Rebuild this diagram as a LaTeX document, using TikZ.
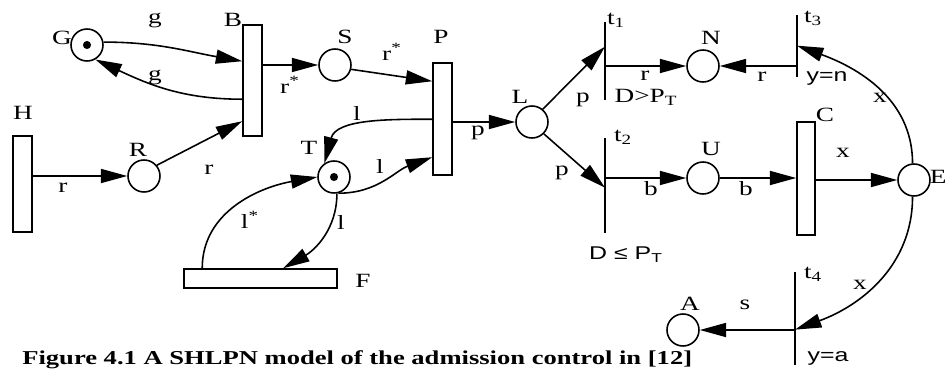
\documentclass[tikz,border=0pt]{standalone}
\usepackage{fontspec}
\setmainfont[FakeStretch=1.35]{Liberation Serif}
\newfontfamily\guardfont[FakeStretch=1.35]{Liberation Sans}
\usepackage{tikz}
\usetikzlibrary{arrows.meta,positioning,calc}
\tikzset{
    place/.style={
        circle,
        draw,
        line width=0.9pt,
        minimum size=0.64cm,
        inner sep=0pt
    },
    token/.style={
        path picture={\fill (path picture bounding box.center) circle (2.3pt);}
    },
    trans/.style={
        rectangle,
        draw,
        line width=0.9pt,
        inner sep=0pt
    },
    bar/.style={
        rectangle,
        fill=black,
        inner sep=0pt,
        minimum width=0.9pt
    },
    arc/.style={
        line width=0.9pt,
        -{Triangle[length=15pt,width=8pt]}
    },
    lbl/.style={
        inner sep=0pt,
        font=\fontsize{11.5}{13}\selectfont
    },
    guard/.style={
        inner sep=0pt,
        font=\guardfont\fontsize{10.5}{12}\selectfont
    }
}

\begin{document}
\begin{tikzpicture}[x=0.02cm, y=-0.02cm]
    \useasboundingbox (0,0) rectangle (948,369);
    % places
    \node (G) [place, token] at (87,45) {};
    \node (S) [place] at (335,65) {};
    \node (R) [place] at (144,176) {};
    \node (T) [place, token] at (334,177) {};
    \node (L) [place] at (532,122) {};
    \node (N) [place] at (703,66) {};
    \node (U) [place] at (703,178) {};
    \node (E) [place] at (914,180) {};
    \node (A) [place] at (683,330) {};
    % transitions
    \node (B) [trans, minimum width=0.38cm, minimum height=2.22cm] at (252.5,80.5) {};
    \node (H) [trans, minimum width=0.38cm, minimum height=1.92cm] at (22.5,184) {};
    \node (P) [trans, minimum width=0.38cm, minimum height=2.24cm] at (442.5,119) {};
    \node (F) [trans, minimum width=3.06cm, minimum height=0.38cm] at (260.5,278.5) {};
    \node (C) [trans, minimum width=0.36cm, minimum height=2.26cm] at (806,178.5) {};
    \node (t1) [bar, minimum height=1.56cm] at (605,61) {};
    \node (t2) [bar, minimum height=1.90cm] at (605,185.5) {};
    \node (t3) [bar, minimum height=1.24cm] at (797,46) {};
    \node (t4) [bar, minimum height=1.86cm] at (795,318.5) {};

    % arcs
    \draw [arc] (G.10) to[out=0,in=170] ($(B.north west)+(0,37)$);
    \draw [arc] ($(B.north west)+(0,75)$) to[out=180,in=-25] (G.-60);
    \draw [arc] (B.east |- S) -- (S);
    \draw [arc] (S.-15) -- ($(P.north west)+(0,19)$);
    \draw [arc] (H.east |- R) -- (R);
    \draw [arc] (R.40) -- ($(B.north west)+(0,97)$);
    \draw [arc] (P.east |- L) -- (L);
    \draw [arc] ($(P.north west)+(0,57)$) to[out=180,in=75] (T.125);
    \draw [arc] (T.-75) to[out=0,in=200] ($(P.north west)+(0,95)$);
    \draw [arc] ($(F.north west)+(19,0)$) to[out=90,in=190] (T.west);
    \draw [arc] (T.-80) to[out=-90,in=30] ($(F.north west)+(100,0)$);
    \draw [arc] (L.50) -- ($(t1.north)+(0,25)$);
    \draw [arc] (L.-45) -- ($(t2.north)+(0,50)$);
    \draw [arc] (t1 |- N) -- (N);
    \draw [arc] (t3 |- N) -- (N);
    \draw [arc] (t2 |- U) -- (U);
    \draw [arc] (U) -- (C.west |- U);
    \draw [arc] (C.east |- E) -- (E);
    \draw [arc] (E.95) to[out=90,in=-20] ($(t3.north)+(0,31)$);
    \draw [arc] (E.-95) to[out=-90,in=20] ($(t4.north)+(0,58)$);
    \draw [arc] (t4 |- A) -- (A);

    % names and inscriptions
    \node (lG) [lbl] at (62,38) {G};
    \node (lB) [lbl] at (233,20) {B};
    \node (lS) [lbl] at (345,37) {S};
    \node (lP) [lbl] at (441,37) {P};
    \node (lH) [lbl] at (23,113) {H};
    \node (lR) [lbl] at (138,150) {R};
    \node (lT) [lbl] at (309,148) {T};
    \node (lF) [lbl] at (363,281) {F};
    \node (lL) [lbl] at (520,97) {L};
    \node (lN) [lbl] at (711,38) {N};
    \node (lU) [lbl] at (711,149) {U};
    \node (lC) [lbl] at (825,115) {C};
    \node (lE) [lbl, anchor=east] at (947,177) {E};
    \node (lA) [lbl] at (690,304) {A};
    \node (lt1) [lbl] at (616,20) {t\textsubscript{1}};
    \node (lt2) [lbl] at (623,137) {t\textsubscript{2}};
    \node (lt3) [lbl] at (813,18) {t\textsubscript{3}};
    \node (lt4) [lbl] at (813,274) {t\textsubscript{4}};

    \node (gGB) [lbl] at (155,20) {g};
    \node (gBG) [lbl] at (155,77) {g};
    \node (rBS) [lbl] at (290,85) {r\textsuperscript{*}};
    \node (rSP) [lbl] at (392,52) {r\textsuperscript{*}};
    \node (rHR) [lbl] at (63,188) {r};
    \node (rRB) [lbl] at (209,170) {r};
    \node (lPT) [lbl] at (357,113) {l};
    \node (lTP) [lbl] at (380,166) {l};
    \node (lFT) [lbl] at (250,220) {l\textsuperscript{*}};
    \node (lTF) [lbl] at (341,222) {l};
    \node (pPL) [lbl] at (478,133) {p};
    \node (pL1) [lbl] at (583,100) {p};
    \node (pL2) [lbl] at (562,173) {p};
    \node (r1N) [lbl] at (645,76) {r};
    \node (r3N) [lbl] at (762,77) {r};
    \node (b2U) [lbl] at (651,189) {b};
    \node (bUC) [lbl] at (746,189) {b};
    \node (xCE) [lbl] at (843,153) {x};
    \node (xE3) [lbl] at (880,98) {x};
    \node (xE4) [lbl] at (860,285) {x};
    \node (s4A) [lbl] at (745,305) {s};

    \node (g1) [lbl] at (646,97) {D>P\textsubscript{T}};
    \node (g2) [guard] at (626,255) {D ≤ P\textsubscript{T}};
    \node (g3) [guard] at (827,78) {y=n};
    \node (g4) [guard] at (828,358) {y=a};

    \node (caption) [anchor=base west, inner sep=0pt, font=\bfseries\fontsize{11.2}{13}\selectfont] at (22,364)
        {Figure 4.1 A SHLPN model of the admission control in [12]};
\end{tikzpicture}
\end{document}
